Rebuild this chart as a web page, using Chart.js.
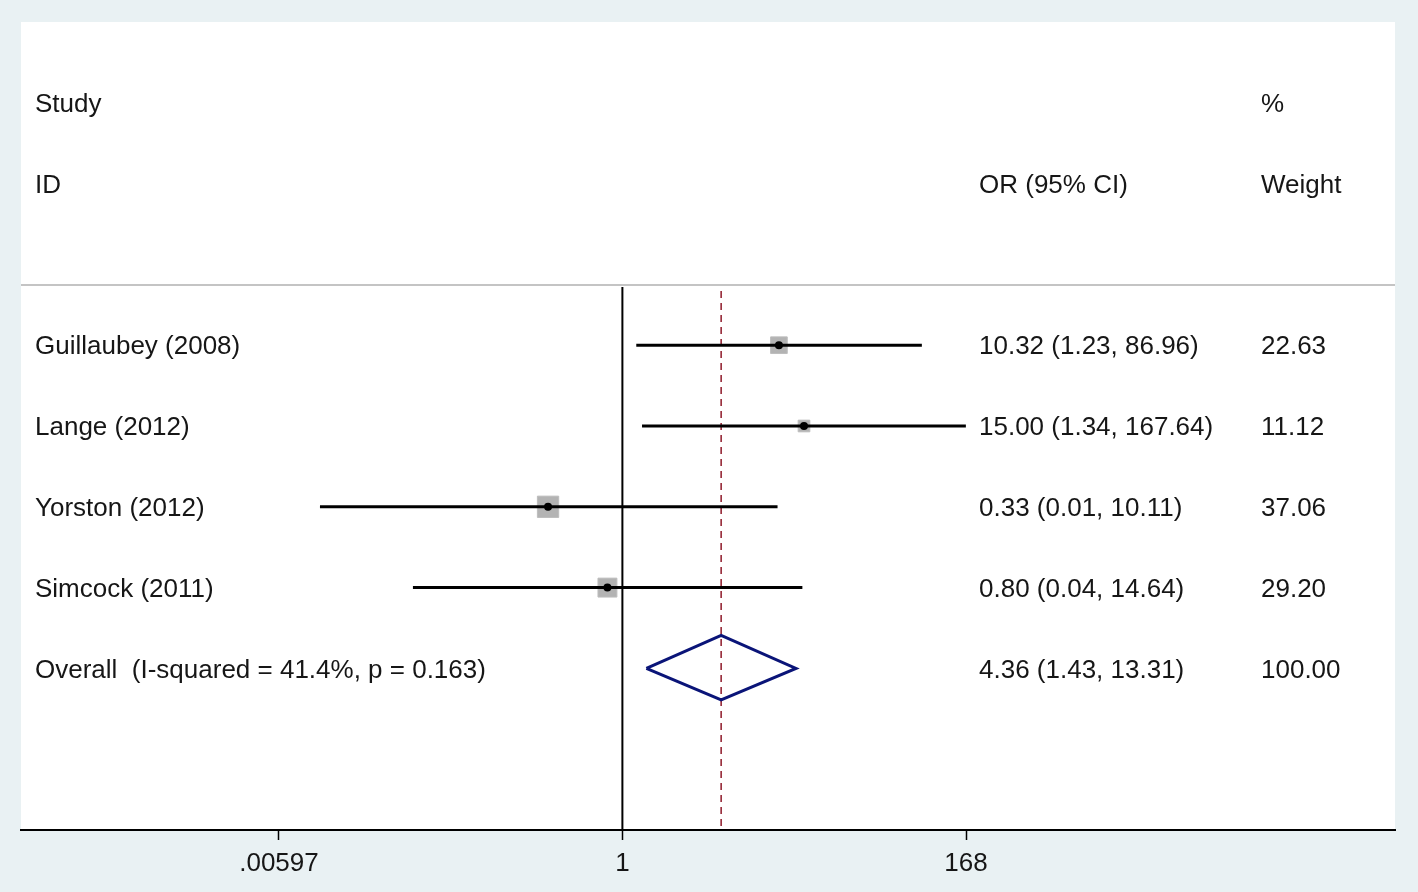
<!DOCTYPE html>
<html>
<head>
<meta charset="utf-8">
<script src="https://cdn.jsdelivr.net/npm/chart.js@4/dist/chart.umd.min.js"></script>
<style>
  html, body { margin: 0; padding: 0; background: #e9f1f3; }
  #wrap { width: 1418px; height: 892px; position: relative; }
</style>
</head>
<body>
<div id="wrap"><canvas id="c" width="1418" height="892"></canvas></div>
<script>
// ---- data ----
const studies   = ["Guillaubey (2008)", "Lange (2012)", "Yorston (2012)", "Simcock (2011)"];
const orValues  = [10.32, 15.00, 0.33, 0.80];
const ciLow     = [1.23, 1.34, 0.011, 0.044];
const ciHigh    = [86.96, 167.64, 10.11, 14.64];
const weights   = [22.63, 11.12, 37.06, 29.20];
const studyRows = [4, 5, 6, 7];

const overallLabel = "Overall  (I-squared = 41.4%, p = 0.163)";
const overallOR    = 4.36;
const overallLow   = 1.43;
const overallHigh  = 13.31;
const overallWeight = "100.00";
const overallRow   = 8;

const tickValues = [0.00597, 1, 168];
const tickLabels = [".00597", "1", "168"];

const headerLeft  = ["Study", "ID"];
const headerMid   = ["", "OR (95% CI)"];
const headerRight = ["%", "Weight"];
const headerRows  = [1, 2];

// ---- helpers ----
const fmt = v => v.toFixed(2);
const ciText = studies.map((s, i) => `${fmt(orValues[i])} (${fmt(ciLow[i])}, ${fmt(ciHigh[i])})`);
const overallText = `${fmt(overallOR)} (${fmt(overallLow)}, ${fmt(overallHigh)})`;

const X_MIN = Math.exp(-8.968);
const X_MAX = Math.exp(11.521);
const FAMILY = '"Liberation Sans", Arial, sans-serif';
const FONT = '26px ' + FAMILY;
const TXT = '#161616';

const datasets = [];

// separator line
datasets.push({
  type: 'line', data: [{x: X_MIN, y: 3.255}, {x: X_MAX, y: 3.255}],
  borderColor: '#c4c4c4', borderWidth: 2, pointRadius: 0, order: 10
});
// null line
datasets.push({
  type: 'line', data: [{x: 1, y: 3.28}, {x: 1, y: 10}],
  borderColor: '#000000', borderWidth: 2, pointRadius: 0, order: 9
});
// overall dashed line
datasets.push({
  type: 'line', data: [{x: overallOR, y: 3.33}, {x: overallOR, y: 10}],
  borderColor: '#8e1a2a', borderWidth: 1.5, borderDash: [7, 5], pointRadius: 0, order: 8
});
// boxes
datasets.push({
  type: 'scatter',
  data: studies.map((s, i) => ({x: orValues[i], y: studyRows[i]})),
  pointStyle: 'rect',
  pointRadius: ctx => 3.5 * Math.sqrt(weights[ctx.dataIndex]) / 1.414,
  pointBackgroundColor: '#b3b3b3', pointBorderWidth: 1, pointBorderColor: '#bdbdbd',
  order: 7
});
// CI lines
studies.forEach((s, i) => {
  datasets.push({
    type: 'line',
    data: [{x: ciLow[i], y: studyRows[i]}, {x: ciHigh[i], y: studyRows[i]}],
    borderColor: '#000000', borderWidth: 3, pointRadius: 0, order: 6
  });
});
// point estimates
datasets.push({
  type: 'scatter',
  data: studies.map((s, i) => ({x: orValues[i], y: studyRows[i]})),
  pointStyle: 'circle', pointRadius: 4,
  pointBackgroundColor: '#000000', pointBorderWidth: 0, order: 1
});
// overall diamond
datasets.push({
  type: 'line',
  data: [
    {x: overallLow, y: overallRow},
    {x: overallOR, y: overallRow - 0.41},
    {x: overallHigh, y: overallRow},
    {x: overallOR, y: overallRow + 0.39},
    {x: overallLow, y: overallRow}
  ],
  borderColor: '#0a1478', borderWidth: 3, pointRadius: 0, tension: 0,
  borderJoinStyle: 'miter', fill: false, order: 2
});

const bgPlugin = {
  id: 'bg',
  beforeDraw(chart) {
    const {ctx, chartArea: a} = chart;
    ctx.save();
    ctx.fillStyle = '#e9f1f3';
    ctx.fillRect(0, 0, chart.width, chart.height);
    ctx.fillStyle = '#ffffff';
    ctx.fillRect(a.left, a.top, a.right - a.left, a.bottom - a.top);
    ctx.restore();
  }
};

const textPlugin = {
  id: 'txt',
  afterDatasetsDraw(chart) {
    const {ctx} = chart;
    const y = chart.scales.y;
    ctx.save();
    ctx.font = FONT;
    ctx.fillStyle = TXT;
    ctx.textBaseline = 'middle';
    ctx.textAlign = 'left';
    const put = (t, x, row) => { if (t) ctx.fillText(t, x, y.getPixelForValue(row) + 2); };
    headerRows.forEach((r, i) => {
      put(headerLeft[i], 35, r);
      put(headerMid[i], 979, r);
      put(headerRight[i], 1261, r);
    });
    studies.forEach((s, i) => {
      put(s, 35, studyRows[i]);
      put(ciText[i], 979, studyRows[i]);
      put(fmt(weights[i]), 1261, studyRows[i]);
    });
    put(overallLabel, 35, overallRow);
    put(overallText, 979, overallRow);
    put(overallWeight, 1261, overallRow);
    ctx.restore();
  }
};

new Chart(document.getElementById('c'), {
  data: { datasets },
  options: {
    responsive: false,
    animation: false,
    events: [],
    layout: { padding: { left: 21, right: 23, top: 22, bottom: 0 } },
    plugins: { legend: { display: false }, tooltip: { enabled: false } },
    scales: {
      x: {
        type: 'logarithmic',
        position: 'bottom',
        min: X_MIN, max: X_MAX,
        afterBuildTicks: s => { s.ticks = tickValues.map(v => ({value: v})); },
        afterFit: s => { s.height = 62; },
        grid: { drawOnChartArea: false, drawTicks: true, tickLength: 10, tickColor: '#000', tickWidth: 1.5 },
        border: { display: true, color: '#000', width: 2 },
        ticks: {
          autoSkip: false, maxRotation: 0, padding: 8,
          color: TXT, font: { family: FAMILY, size: 26 },
          callback: (v, i) => tickLabels[i]
        }
      },
      y: {
        type: 'linear', display: false, reverse: true, min: 0, max: 10
      }
    }
  },
  plugins: [bgPlugin, textPlugin]
});
</script>
</body>
</html>
